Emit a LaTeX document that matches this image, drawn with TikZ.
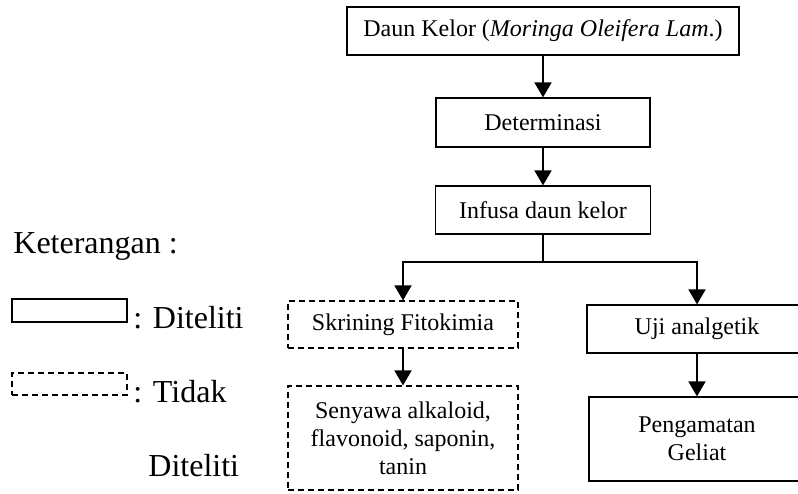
\documentclass[tikz,border=0pt]{standalone}
\usepackage{fontspec}
\setmainfont{Liberation Serif}
\usetikzlibrary{arrows.meta}
\tikzset{
 solidbox/.style n args={2}{draw, line width=0.6pt, minimum width=#1, minimum height=#2, inner sep=0pt, align=center, font=\fontsize{12}{14}\selectfont},
 dashbox/.style n args={2}{solidbox={#1}{#2}, dash pattern=on 3pt off 2pt},
 arr/.style={line width=0.9pt, -{Triangle[length=7.5pt,width=8.5pt]}},
 link/.style={line width=0.9pt},
 legtext/.style={anchor=base west, inner sep=0pt, font=\fontsize{16}{19}\selectfont},
}
\begin{document}
\begin{tikzpicture}[x=0.5pt,y=-0.5pt]
\clip (0,0) rectangle (798,493);
% flowchart
\node[solidbox={196pt}{24pt}] (daun) at (543,31) {Daun Kelor (\textit{Moringa Oleifera Lam}.)};
\node[solidbox={107pt}{24.5pt}] (det) at (543,122.5) {Determinasi};
\node[solidbox={107.5pt}{24pt}] (inf) at (543,210) {Infusa daun kelor};
\coordinate (split) at (543,262);
\node[dashbox={115pt}{23.5pt}] (skr) at (403,324.5) {Skrining Fitokimia};
\node[dashbox={115pt}{52pt}] (sen) at (403,438) {Senyawa alkaloid,\\flavonoid, saponin,\\tanin};
\node[solidbox={110pt}{24pt}] (uji) at (697,329) {Uji analgetik};
\node[solidbox={108pt}{42pt}] (pen) at (697,439) {Pengamatan\\Geliat};
\draw[arr] (daun) -- (det);
\draw[arr] (det) -- (inf);
\draw[link] (inf) -- (split);
\draw[arr] (split) -| (skr);
\draw[arr] (split) -| (uji);
\draw[arr] (skr) -- (sen);
\draw[arr] (uji) -- (pen);
% legend
\node[legtext] (ket) at (13,253) {Keterangan :};
\node[solidbox={57.5pt}{11.5pt}] (legsolid) at (69.5,310.5) {};
\node[legtext] (legd) at (133,328) {: Diteliti};
\node[dashbox={57.5pt}{11pt}] (legdash) at (69.5,384) {};
\node[legtext] (legt) at (133,402) {: Tidak};
\node[legtext] (legt2) at (148,476) {Diteliti};
\end{tikzpicture}
\end{document}
